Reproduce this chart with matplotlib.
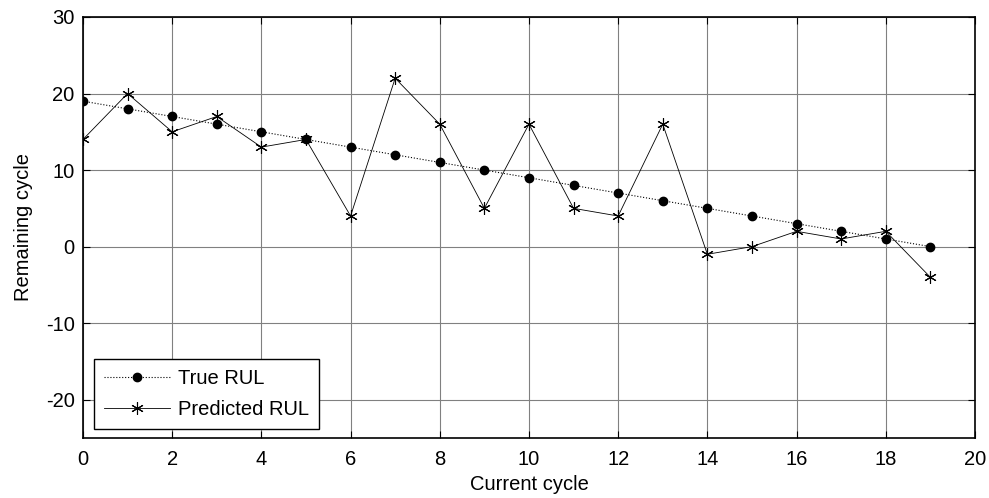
import matplotlib
matplotlib.use("Agg")
import matplotlib.pyplot as plt

plt.rcParams['font.family'] = ['Liberation Sans', 'DejaVu Sans']
plt.rcParams['axes.unicode_minus'] = False

cycles = list(range(20))
true_rul = [19, 18, 17, 16, 15, 14, 13, 12, 11, 10, 9, 8, 7, 6, 5, 4, 3, 2, 1, 0]
pred_rul = [14, 20, 15, 17, 13, 14, 4, 22, 16, 5, 16, 5, 4, 16, -1, 0, 2, 1, 2, -4]

fig = plt.figure(figsize=(9.89, 4.98), dpi=100)
ax = fig.add_axes([0.0839, 0.1205, 0.9019, 0.8454])

ax.plot(cycles, true_rul, color='black', linestyle=':', linewidth=0.8,
        marker='o', markersize=6, label='True RUL')
ax.plot(cycles, pred_rul, color='black', linestyle='-', linewidth=0.6,
        marker=(6, 2, 0), markersize=9, markeredgewidth=0.8, label='Predicted RUL')

ax.set_xlim(0, 20)
ax.set_ylim(-25, 30)
ax.set_xticks(range(0, 21, 2))
ax.set_yticks(range(-20, 31, 10))
ax.tick_params(direction='in', top=True, right=True, labelsize=14.5, length=5)
ax.tick_params(axis='x', pad=9)
ax.tick_params(axis='y', pad=6)
ax.grid(True, color='#808080', linewidth=0.8)
for s in ax.spines.values():
    s.set_linewidth(1.2)

ax.set_xlabel('Current cycle', fontsize=14.5, labelpad=4)
ax.set_ylabel('Remaining cycle', fontsize=14.5, labelpad=9)

leg = ax.legend(loc='lower left', bbox_to_anchor=(0.012, 0.021), fontsize=14.5,
                fancybox=False, framealpha=1, edgecolor='black',
                borderaxespad=0, borderpad=0.5, handlelength=3.3, handletextpad=0.4,
                labelspacing=0.6)
leg.get_frame().set_linewidth(1.0)

fig.savefig('out.png', dpi=100)
